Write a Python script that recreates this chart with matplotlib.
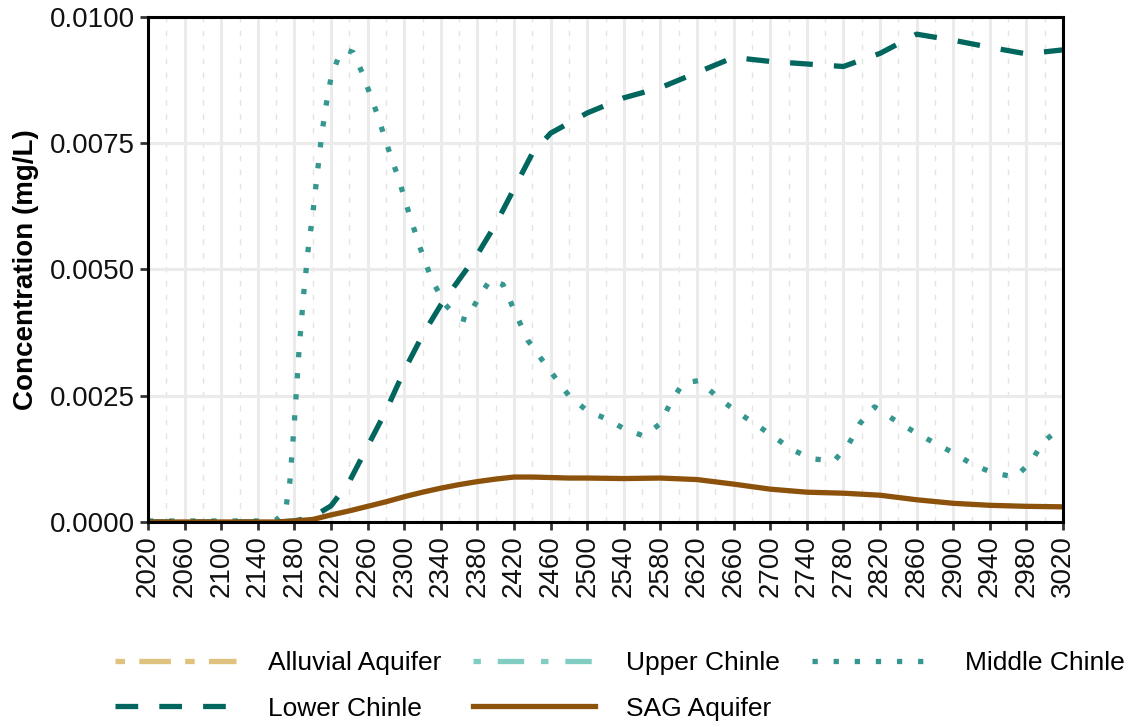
import numpy as np
import matplotlib
matplotlib.use('Agg')
from matplotlib import pyplot as plt
from matplotlib.ticker import FormatStrFormatter, MultipleLocator

plt.rcParams['font.family'] = ['Liberation Sans', 'DejaVu Sans']

# Years and concentrations (mg/L)
years = [2020, 2060, 2100, 2140, 2160, 2180, 2200, 2220, 2240, 2260, 2280, 2300,
         2320, 2340, 2360, 2380, 2400, 2420, 2440, 2460, 2480, 2500, 2540, 2580,
         2620, 2660, 2700, 2740, 2780, 2820, 2860, 2900, 2940, 2980, 3020]

# these two show only in the legend: nothing of them is visible in the panel
alluvial = []
upper_chinle = []

lower_chinle = [0.0, 0.0, 0.0, 0.0, 0.0, 0.00002, 0.0001, 0.00032, 0.0008, 0.0015,
                0.0022, 0.0030, 0.0037, 0.0043, 0.0048, 0.0053, 0.0059, 0.0066,
                0.0073, 0.0077, 0.0079, 0.0081, 0.0084, 0.0086, 0.0089, 0.0092,
                0.00912, 0.00907, 0.00902, 0.00928, 0.00966, 0.00954, 0.0094,
                0.00927, 0.00935]

sag = [0.0, 0.0, 0.0, 0.0, 0.0, 0.00002, 0.00005, 0.00014, 0.00022, 0.00031,
       0.0004, 0.0005, 0.00059, 0.00067, 0.00074, 0.0008, 0.00085, 0.00089,
       0.00089, 0.00088, 0.00087, 0.00087, 0.00086, 0.00087, 0.00084, 0.00075,
       0.00065, 0.00059, 0.00057, 0.00053, 0.00044, 0.00037, 0.00033, 0.00031,
       0.0003]

mid_years = [2020, 2060, 2100, 2140, 2160, 2170, 2175, 2180, 2185, 2190, 2195,
             2200, 2205, 2210, 2215, 2220, 2228, 2236, 2244, 2254, 2262, 2270,
             2278, 2286, 2294, 2302, 2316, 2330, 2345, 2358, 2368, 2380, 2394,
             2408, 2420, 2435, 2455, 2480, 2500, 2520, 2540, 2562, 2580, 2592,
             2605, 2622, 2642, 2662, 2682, 2703, 2724, 2746, 2770, 2786, 2798,
             2814, 2834, 2856, 2878, 2900, 2922, 2944, 2968, 2985, 2998, 3020]
middle_chinle = [0.00002, 0.00002, 0.00002, 0.00002, 0.00004, 0.0002, 0.0008,
                 0.002, 0.0034, 0.0045, 0.0054, 0.0061, 0.0069, 0.0077, 0.0083,
                 0.0088, 0.0092, 0.00935, 0.0093, 0.0089, 0.0085, 0.0081,
                 0.00765, 0.0072, 0.0068, 0.0063, 0.0055, 0.0048, 0.0043,
                 0.00405, 0.0040, 0.0044, 0.0048, 0.0047, 0.0042, 0.0036,
                 0.0031, 0.0025, 0.0022, 0.00205, 0.00185, 0.0017, 0.00195,
                 0.0024, 0.00275, 0.0028, 0.00248, 0.0022, 0.00196, 0.0017,
                 0.00143, 0.00125, 0.00121, 0.00155, 0.00195, 0.00228, 0.00204,
                 0.0018, 0.00158, 0.00137, 0.00113, 0.00097, 0.00089, 0.00119,
                 0.00158, 0.0019]

x_ticks = list(range(2020, 3021, 40))

fig = plt.figure(figsize=(11.31, 7.27), dpi=100)
ax = fig.add_axes([0.1309, 0.282, 0.809, 0.6946])

lw = 3.8
ax.plot(alluvial, alluvial, color='#dfc27d', lw=lw, ls=(0, (1.8, 2.7, 6, 2.7)),
        dash_capstyle='butt', label='Alluvial Aquifer')
ax.plot(upper_chinle, upper_chinle, color='#80cdc1', lw=lw, ls=(0, (1.4, 3.2, 5, 3.2)),
        dash_capstyle='butt', label='Upper Chinle')
ax.plot(mid_years, middle_chinle, color='#35978f', lw=lw, ls=(0, (1, 3)),
        dash_capstyle='butt', label='Middle Chinle')
ax.plot(years, lower_chinle, color='#01665e', lw=lw, ls=(0, (4.3, 4)),
        dash_capstyle='butt', label='Lower Chinle')
ax.plot(years, sag, color='#8c510a', lw=lw, ls='-', label='SAG Aquifer')

ax.set_xlim(2020, 3020)
ax.set_ylim(0, 0.01)
ax.set_xticks(x_ticks)
ax.xaxis.set_minor_locator(MultipleLocator(20))
ax.yaxis.set_major_locator(MultipleLocator(0.0025))
ax.yaxis.set_major_formatter(FormatStrFormatter('%.4f'))
ax.tick_params(axis='x', which='major', labelrotation=90)
ax.tick_params(which='major', length=6, width=2, color='#333333', labelsize=20,
               labelcolor='#111111')
ax.tick_params(which='minor', length=0)

ax.set_axisbelow(True)
ax.grid(which='major', color='#ebebeb', lw=2.2)
ax.grid(which='minor', axis='x', color='#e3e3e3', lw=1, ls=(0, (4, 6)))

for s in ax.spines.values():
    s.set_linewidth(2.2)
    s.set_color('black')

ax.set_ylabel('Concentration (mg/L)', fontsize=20, fontweight='bold', labelpad=8)

h, l = ax.get_legend_handles_labels()
order = [0, 3, 1, 4, 2]
fig.legend([h[i] for i in order], [l[i] for i in order], ncol=3,
           loc='center', bbox_to_anchor=(0.548, 0.0564), frameon=False,
           fontsize=19, handlelength=4.6, handletextpad=1.2, columnspacing=1.2,
           labelspacing=0.8)

fig.savefig('out.png', dpi=100)
